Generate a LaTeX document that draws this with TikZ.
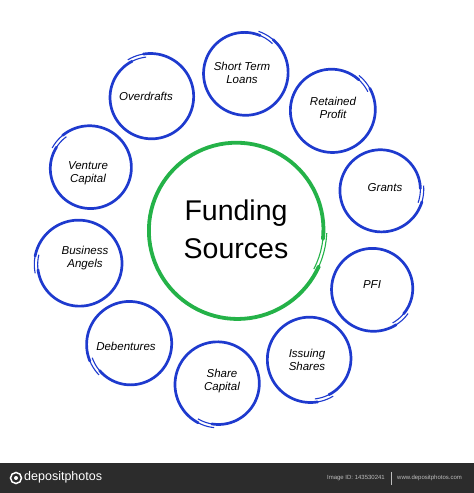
\documentclass[tikz,border=0pt]{standalone}
\usepackage{fontspec}
\setmainfont{Liberation Sans}
\definecolor{ringblue}{RGB}{30,58,206}
\definecolor{ringgreen}{RGB}{36,178,72}
\definecolor{barbg}{RGB}{44,44,44}
\definecolor{bartext}{RGB}{190,190,190}
\newcommand{\ring}[5]{%
  \draw[#4,line width=1.1pt,shift={(#1)},domain=0:385,samples=90] plot ({#3-\x}:{#2+1.8-3.6*\x/385});
  \draw[#4,line width=#5,line cap=round,shift={(#1)},domain=22:364,samples=90] plot ({#3-\x}:{#2+1.8-3.6*\x/385});
}
\begin{document}
\begin{tikzpicture}[x=1pt,y=1pt,
    lbl/.style={font=\fontsize{11.5}{13}\selectfont\itshape,align=center,inner sep=0pt},
    big/.style={font=\fontsize{28.5}{38}\selectfont,align=center,inner sep=0pt},
    small/.style={font=\fontsize{6}{7}\selectfont,text=bartext,inner sep=0pt}]
  \useasboundingbox (0,0) rectangle (474,493);

  \coordinate (c-funding) at (237,263);
  \coordinate (c-loans) at (245,420);
  \coordinate (c-profit) at (332,383);
  \coordinate (c-grants) at (381,303);
  \coordinate (c-pfi) at (373,204);
  \coordinate (c-issuing) at (310,134);
  \coordinate (c-capital) at (218,109);
  \coordinate (c-debentures) at (130,149);
  \coordinate (c-angels) at (79,229);
  \coordinate (c-venture) at (90,325);
  \coordinate (c-overdrafts) at (151,396);

  \ring{c-funding}{88}{-2}{ringgreen}{3.8pt}
  \ring{c-loans}{42}{72}{ringblue}{2.7pt}
  \ring{c-profit}{42}{52}{ringblue}{2.7pt}
  \ring{c-grants}{41}{6}{ringblue}{2.7pt}
  \ring{c-pfi}{41}{-35}{ringblue}{2.7pt}
  \ring{c-issuing}{42}{-58}{ringblue}{2.7pt}
  \ring{c-capital}{42}{-95}{ringblue}{2.7pt}
  \ring{c-debentures}{42}{-135}{ringblue}{2.7pt}
  \ring{c-angels}{43}{192}{ringblue}{2.7pt}
  \ring{c-venture}{41}{152}{ringblue}{2.7pt}
  \ring{c-overdrafts}{42}{122}{ringblue}{2.7pt}

  \node[big] (funding) at (236,264) {Funding\\Sources};
  \node[lbl] (loans) at (242,420) {Short Term\\Loans};
  \node[lbl] (profit) at (333,385) {Retained\\Profit};
  \node[lbl] (grants) at (385,305) {Grants};
  \node[lbl] (pfi) at (372,208) {PFI};
  \node[lbl] (issuing) at (307,133) {Issuing\\Shares};
  \node[lbl] (capital) at (222,112) {Share\\Capital};
  \node[lbl] (debentures) at (126,147) {Debentures};
  \node[lbl] (angels) at (85,235) {Business\\Angels};
  \node[lbl] (venture) at (88,320) {Venture\\Capital};
  \node[lbl] (overdrafts) at (146,397) {Overdrafts};

  \fill[barbg] (0,0) rectangle (474,30);
  \draw[white,line width=1.5pt] (16,15) circle (5.5);
  \fill[white] (16,15) circle (2);
  \node[anchor=west,text=white,inner sep=0pt,font=\fontsize{12.5}{14}\selectfont] (logo) at (24,15.5) {depositphotos};
  \node[small,anchor=east] (imageid) at (385,15) {Image ID: 143530241};
  \coordinate (sep-top) at (391,21);
  \coordinate (sep-bot) at (391,8);
  \draw[bartext,line width=0.4pt] (sep-top) -- (sep-bot);
  \node[small,anchor=west] (site) at (397,15) {www.depositphotos.com};
\end{tikzpicture}
\end{document}
